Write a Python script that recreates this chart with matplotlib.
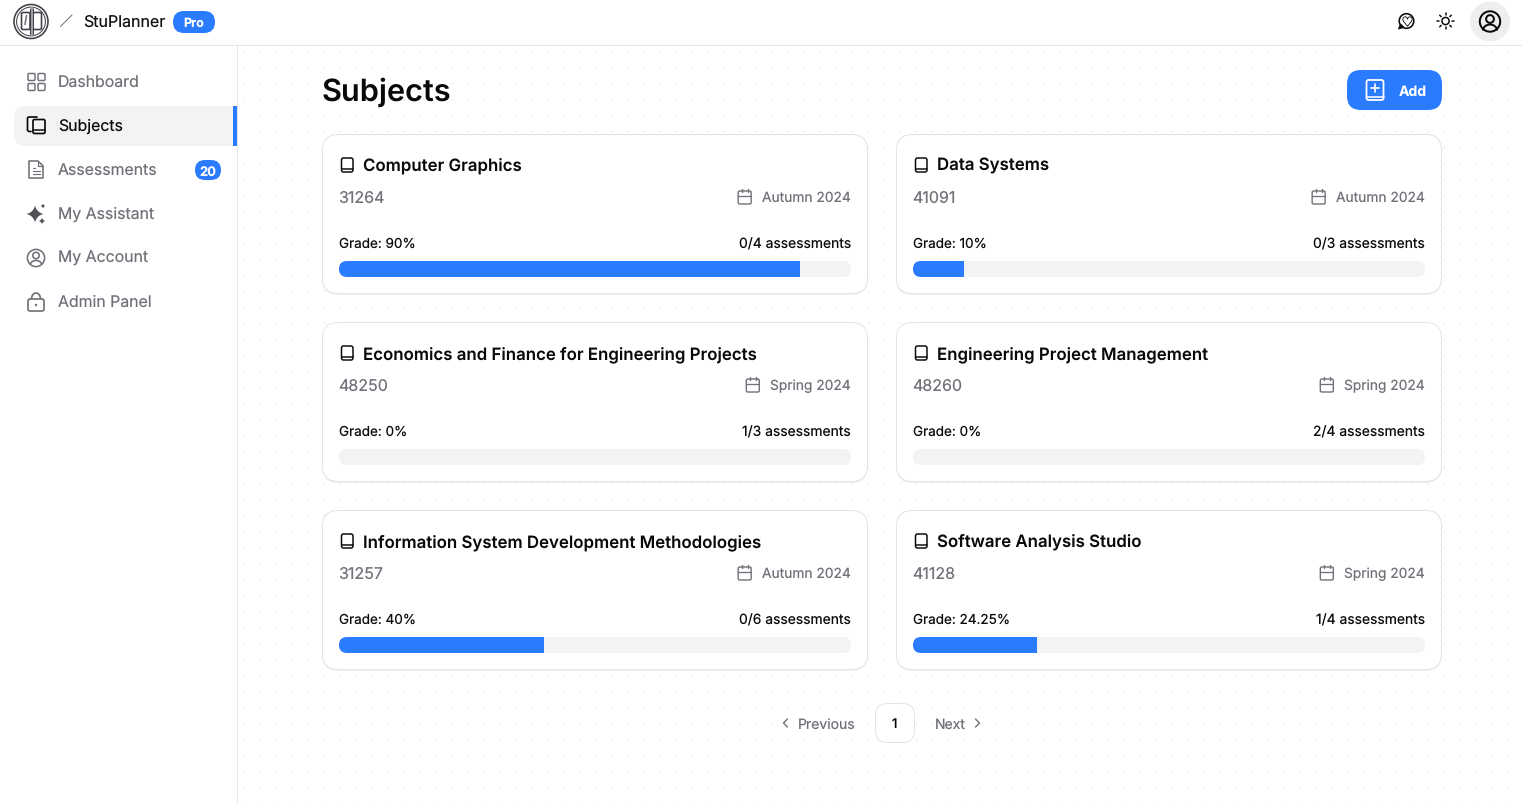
import matplotlib
matplotlib.use("Agg")
import matplotlib.pyplot as plt
from matplotlib.patches import FancyBboxPatch, Circle, PathPatch, Rectangle, Arc, Polygon
from matplotlib.path import Path
import numpy as np

plt.rcParams['font.family'] = ['Inter', 'DejaVu Sans']
plt.rcParams['text.hinting'] = 'none'
plt.rcParams['text.hinting_factor'] = 1

W, H = 1522, 804
subjects = ["Computer Graphics", "Data Systems", "Economics and Finance for Engineering Projects",
            "Engineering Project Management", "Information System Development Methodologies",
            "Software Analysis Studio"]
codes = ["31264", "41091", "48250", "48260", "31257", "41128"]
terms = ["Autumn 2024", "Autumn 2024", "Spring 2024", "Spring 2024", "Autumn 2024", "Spring 2024"]
grades = [90, 10, 0, 0, 40, 24.25]
grade_labels = ["90%", "10%", "0%", "0%", "40%", "24.25%"]
assessments = ["0/4", "0/3", "1/3", "2/4", "0/6", "1/4"]
nav_items = ["Dashboard", "Subjects", "Assessments", "My Assistant", "My Account", "Admin Panel"]
nav_badge = "20"

BLUE = "#2b7bff"
GRAY = "#71717a"
LINE = "#e4e4e7"
INK = "#0a0a0a"

fig = plt.figure(figsize=(W / 100, H / 100), dpi=100, facecolor="white")
ax = fig.add_axes([0, 0, 1, 1])
ax.set_xlim(0, W)
ax.set_ylim(H - 1, -1)
ax.axis("off")


def px(v):
    return v * 0.72


def rrect(x0, y0, x1, y1, r, fc="none", ec="none", lw=1.0, z=2):
    p = FancyBboxPatch((x0, y0), x1 - x0, y1 - y0, boxstyle=f"round,pad=0,rounding_size={r}",
                       fc=fc, ec=ec, lw=px(lw), zorder=z, mutation_aspect=1)
    ax.add_patch(p)
    return p


def line(xs, ys, c=INK, lw=1.5, z=4):
    ax.plot(xs, ys, color=c, lw=px(lw), solid_capstyle="round", solid_joinstyle="round", zorder=z)


def circ(x, y, r, fc="none", ec="none", lw=1.5, z=4):
    ax.add_patch(Circle((x, y), r, fc=fc, ec=ec, lw=px(lw), zorder=z))


def txt(x, y, s, size, c=INK, w="normal", ha="left", z=5):
    return ax.text(x, y, s, fontsize=px(size), color=c, fontweight=w, ha=ha, va="baseline", zorder=z)


def book(x, y, w, h, c=INK, lw=1.5):
    """Outline book icon with top-left corner (x, y)."""
    rrect(x, y, x + w, y + h, 2, ec=c, lw=lw, z=4)
    line([x, x + w], [y + h - 3.5, y + h - 3.5], c, lw)


def star(cx, cy, r, c):
    v = [(cx, cy - r), (cx + r, cy), (cx, cy + r), (cx - r, cy), (cx, cy - r)]
    verts = [v[0]]
    codes_ = [Path.MOVETO]
    k = 0.18 * r
    ctrl = [(cx + k, cy - k), (cx + k, cy + k), (cx - k, cy + k), (cx - k, cy - k)]
    for i in range(4):
        verts += [ctrl[i], v[i + 1]]
        codes_ += [Path.CURVE3, Path.CURVE3]
    ax.add_patch(PathPatch(Path(verts, codes_), fc=c, ec="none", zorder=4))


def calendar(x, y, c=GRAY):
    rrect(x, y + 2, x + 13, y + 15, 1.5, ec=c, lw=1.4, z=4)
    line([x, x + 13], [y + 6.5, y + 6.5], c, 1.3)
    line([x + 3.5, x + 3.5], [y, y + 3], c, 1.4)
    line([x + 9.5, x + 9.5], [y, y + 3], c, 1.4)


# dotted page background
dx = np.arange(243, W, 16) + 0.5
dy = np.arange(50, H, 16) + 0.5
gx, gy = np.meshgrid(dx, dy)
ax.scatter(gx.ravel(), gy.ravel(), s=1.1, c="#e6e6e6", linewidths=0, zorder=1)

# frame lines
line([0, W], [44.5, 44.5], "#e5e5e5", 1.0, 3)
line([237.0, 237.0], [45, H], "#e5e5e5", 1.0, 3)

# header logo
LG = "#3f3f46"
circ(31, 21.5, 17, ec=LG, lw=1.6)
circ(31, 21.5, 14.4, ec=LG, lw=1.0)
rrect(21.5, 12.5, 30, 29.5, 1.5, ec=LG, lw=1.6, z=4)
rrect(33, 12.5, 41.5, 29.5, 1.5, ec=LG, lw=1.6, z=4)
line([31.5, 31.5], [8.5, 33.5], "#a1a1aa", 4.0)
line([30, 30], [8.5, 33.5], LG, 1.0)
line([33, 33], [8.5, 33.5], LG, 1.0)
line([25, 26.5], [24.5, 15.5], "#71717a", 1.6)
line([60.5, 72], [26.5, 15], "#71717a", 1.0)
txt(83, 26, "StuPlanner", 16, "#111111")
rrect(173, 11, 215, 33, 11, fc=BLUE)
txt(194, 25.5, "Pro", 12.5, "white", "bold", "center")

# header right icons
circ(1406.5, 21, 7.3, ec=INK, lw=1.6)
ax.add_patch(Polygon([(1398.5, 29), (1404, 27.3), (1400.5, 24)], closed=True, fc=INK, ec=INK, lw=0.7, zorder=4))
ax.scatter([1406.5], [20.8], marker="$\u2665$", s=46, c="white", edgecolors=INK, linewidths=0.6, zorder=5)
circ(1445.5, 21, 3.6, ec=INK, lw=1.5)
for a in np.arange(0, 360, 45):
    ca, sa = np.cos(np.radians(a)), np.sin(np.radians(a))
    line([1445.5 + 6.2 * ca, 1445.5 + 8.2 * ca], [21 + 6.2 * sa, 21 + 8.2 * sa], INK, 1.5)
circ(1490, 21.5, 20, fc="#eeeeee", z=3)
circ(1490, 21.5, 10.2, ec=INK, lw=2)
circ(1490, 19, 3.9, ec=INK, lw=2)
ax.add_patch(Arc((1490, 30.5), 14, 12, theta1=180, theta2=360, ec=INK, lw=px(2), zorder=5))

# sidebar
rrect(14, 106, 250, 146, 12, fc="#f3f3f3", z=2)
ax.add_patch(Rectangle((237.5, 100), 20, 52, fc="white", ec="none", zorder=2.5))
ax.add_patch(Rectangle((233, 106), 4, 40, fc=BLUE, ec="none", zorder=3))
for i, name in enumerate(nav_items):
    yb = 86 + 44 * i
    txt(58, yb, name, 15.85, INK if i == 1 else GRAY)

ic = "#71717a"
for (a, b) in [(28, 73.5), (38, 73.5), (28, 83.5), (38, 83.5)]:
    rrect(a, b, a + 7, b + 7, 1.2, ec=ic, lw=1.5, z=4)
# subjects icon
line([37, 28.5, 27.5, 27.5, 29, 31], [117, 117, 118, 130.5, 131.5, 131.5], INK, 1.7)
rrect(33, 119.5, 45, 133.5, 1.5, ec=INK, lw=1.7, z=4)
line([33, 45], [129.5, 129.5], INK, 1.5)
# assessments icon
ax.add_patch(Polygon([(29, 161), (38, 161), (43, 166), (43, 178), (29, 178)], closed=True, fc="none", ec=ic,
                     lw=px(1.6), joinstyle="round", zorder=4))
line([38, 38, 43], [161, 166, 166], ic, 1.2)
for yy, xe in [(167.5, 35), (171, 40), (174, 40)]:
    line([32.5, xe], [yy, yy], ic, 1.2)
rrect(195, 160, 221, 180, 10, fc=BLUE)
txt(208, 174.5, nav_badge, 13, "white", "bold", "center")
# assistant icon
star(35, 214, 8.5, "#52525b")
star(43, 206, 2.5, "#52525b")
star(42, 221, 3.2, "#52525b")
# account icon
circ(36, 258, 8.6, ec=ic, lw=1.6)
circ(36, 255.5, 3.2, ec=ic, lw=1.6)
ax.add_patch(Arc((36, 264.5), 11, 8, theta1=180, theta2=360, ec=ic, lw=px(1.6), zorder=4))
# admin icon
rrect(28, 299, 44, 311, 2, ec=ic, lw=1.7, z=4)
ax.add_patch(Arc((36, 299), 9, 12, theta1=180, theta2=360, ec=ic, lw=px(1.7), zorder=4))
circ(36, 305, 1.2, fc=ic)

# page title and add button
txt(321.5, 100, "Subjects", 30.7, INK, "semibold")
rrect(1347, 70, 1442, 110, 14, fc=BLUE, z=3)
rrect(1366.5, 80, 1383.5, 100, 2, ec="white", lw=1.8, z=4)
line([1366.5, 1383.5], [96.5, 96.5], "white", 1.6)
line([1371, 1379], [88, 88], "white", 1.7)
line([1375, 1375], [84, 92], "white", 1.7)
txt(1399, 95, "Add", 14, "white", "bold")

# cards
card_x = [322.5, 896.5]
card_y = [134.5, 322.5, 510.5]
CW, CH = 545, 159
renderer = fig.canvas.get_renderer()
for i, s in enumerate(subjects):
    x0 = card_x[i % 2]
    y0 = card_y[i // 2]
    rrect(x0, y0 + 1.5, x0 + CW, y0 + CH + 1.5, 16, fc="#f0f0f0", z=1.5)
    rrect(x0, y0, x0 + CW, y0 + CH, 16, fc="white", ec=LINE, lw=1.0, z=2)
    left = x0 + 16.5
    right = x0 + 528.5
    book(left + 2.5, y0 + 23.5, 11.5, 14, INK, 1.5)
    txt(x0 + 40.5, y0 + 35.5, s, 16.85, INK, "semibold")
    txt(left - 0.5, y0 + 67, codes[i], 16, GRAY)
    t = txt(right, y0 + 66.5, terms[i], 13.8, GRAY, ha="right")
    tw = t.get_window_extent(renderer).width
    calendar(right - tw - 11 - 13, y0 + 54.5)
    txt(left, y0 + 112.5, f"Grade: {grade_labels[i]}", 13.5, INK)
    txt(right, y0 + 112.5, f"{assessments[i]} assessments", 13.9, INK, ha="right")
    # progress track and its bar, drawn on a 0..100 scale
    tx0, ty0, tw_, th = left, y0 + 126.5, 512, 16
    track = rrect(tx0, ty0, tx0 + tw_, ty0 + th, 8, fc="#f3f3f3", z=3)
    bar_ax = fig.add_axes([tx0 / W, 1 - (ty0 + th + 1) / H, tw_ / W, th / H], facecolor="none")
    bar_ax.set_xlim(0, 100)
    bar_ax.set_ylim(-0.5, 0.5)
    bar_ax.axis("off")
    bars = bar_ax.barh([0], [grades[i]], height=1, color=BLUE, linewidth=0)
    for b in bars:
        b.set_clip_path(track)

# pagination
line([787.5, 783.5, 787.5], [719, 723, 727], GRAY, 1.4)
txt(798, 727.5, "Previous", 14, GRAY)
rrect(875.5, 703.5, 914.5, 742.5, 12, fc="white", ec=LINE, lw=1.0)
txt(894.5, 727.5, "1", 13, INK, "medium", "center")
txt(935, 727.5, "Next", 14, GRAY)
line([975.5, 979.5, 975.5], [719, 723, 727], GRAY, 1.4)

fig.savefig("out.png", dpi=100, facecolor="white")
